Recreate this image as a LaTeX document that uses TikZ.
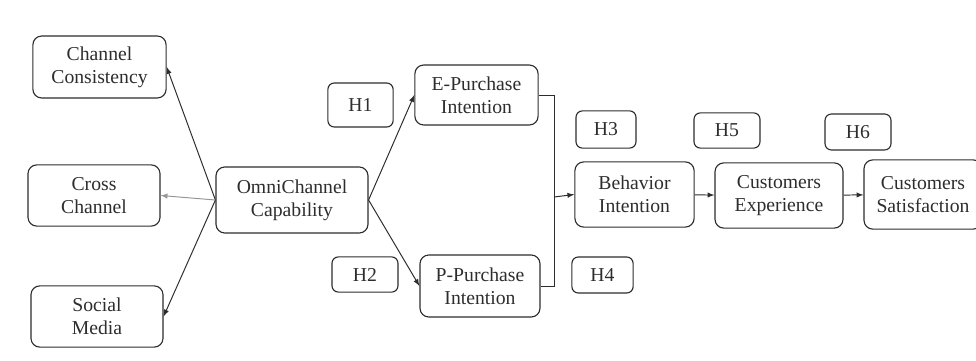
\documentclass[tikz,border=0pt]{standalone}
\usepackage{fontspec}
\setmainfont{Liberation Serif}
\usepackage{tikz}
\usetikzlibrary{arrows, calc}
\definecolor{ink}{RGB}{45,45,45}
\definecolor{faint}{RGB}{150,150,150}
\tikzstyle{block}=[draw=ink, text=ink, rounded corners=2.2mm, align=center, inner sep=0pt, line width=0.8pt, font=\fontsize{14}{16.5}\selectfont]
\tikzstyle{hyp}=[block, rounded corners=1.6mm]
\tikzstyle{link}=[draw=ink, line width=0.7pt, -latex]
\newcommand{\OCbox}[6]{\node[#1, minimum width=#5cm, minimum height=#6cm] (#2) at (#3) {#4};}

\begin{document}
\begin{tikzpicture}[x=0.025cm, y=-0.025cm]
\useasboundingbox (0,0) rectangle (976,361);
\OCbox{block}{cc}{99.5,67}{Channel\\Consistency}{3.33}{1.55}
\OCbox{block}{cross}{94,195.5}{Cross\\Channel}{3.3}{1.53}
\OCbox{block}{social}{97,316.5}{Social\\Media}{3.3}{1.53}
\OCbox{block}{omni}{292,200}{OmniChannel\\Capability}{3.8}{1.65}
\OCbox{hyp}{h1}{360.5,105}{H1}{1.63}{1.1}
\OCbox{hyp}{h2}{365,274.5}{H2}{1.65}{0.88}
\OCbox{block}{epi}{476.5,95}{E-Purchase\\Intention}{3.08}{1.5}
\OCbox{block}{ppi}{480,286}{P-Purchase\\Intention}{3.0}{1.55}
\OCbox{block}{bi}{634.5,194.5}{Behavior\\Intention}{2.98}{1.63}
\OCbox{block}{ce}{779,195.5}{Customers\\Experience}{3.2}{1.63}
\OCbox{block}{cs}{923,194.5}{Customers\\Satisfaction}{2.95}{1.73}
\OCbox{hyp}{h3}{606,129.5}{H3}{1.5}{0.93}
\OCbox{hyp}{h4}{602.5,275}{H4}{1.53}{0.9}
\OCbox{hyp}{h5}{727,130.5}{H5}{1.65}{0.88}
\OCbox{hyp}{h6}{858,132}{H6}{1.65}{0.9}
\coordinate (bar) at (554,197);
% dimensions of omnichannel capability
\draw[link] (omni.west) -- (cc.east);
\draw[link, draw=faint] (omni.west) -- (cross.east);
\draw[link] (omni.west) -- (social.east);
% purchase intentions
\draw[link] (omni.east) -- (epi.west);
\draw[link] (omni.east) -- (ppi.west);
\draw[draw=ink, line width=0.7pt] (epi.east) -- (epi.east -| bar) -- (ppi.east -| bar) -- (ppi.east);
\draw[link] (bar) -- (bi.west);
\draw[link] (bi) -- (ce);
\draw[link] (ce) -- (cs);
\end{tikzpicture}
\end{document}
